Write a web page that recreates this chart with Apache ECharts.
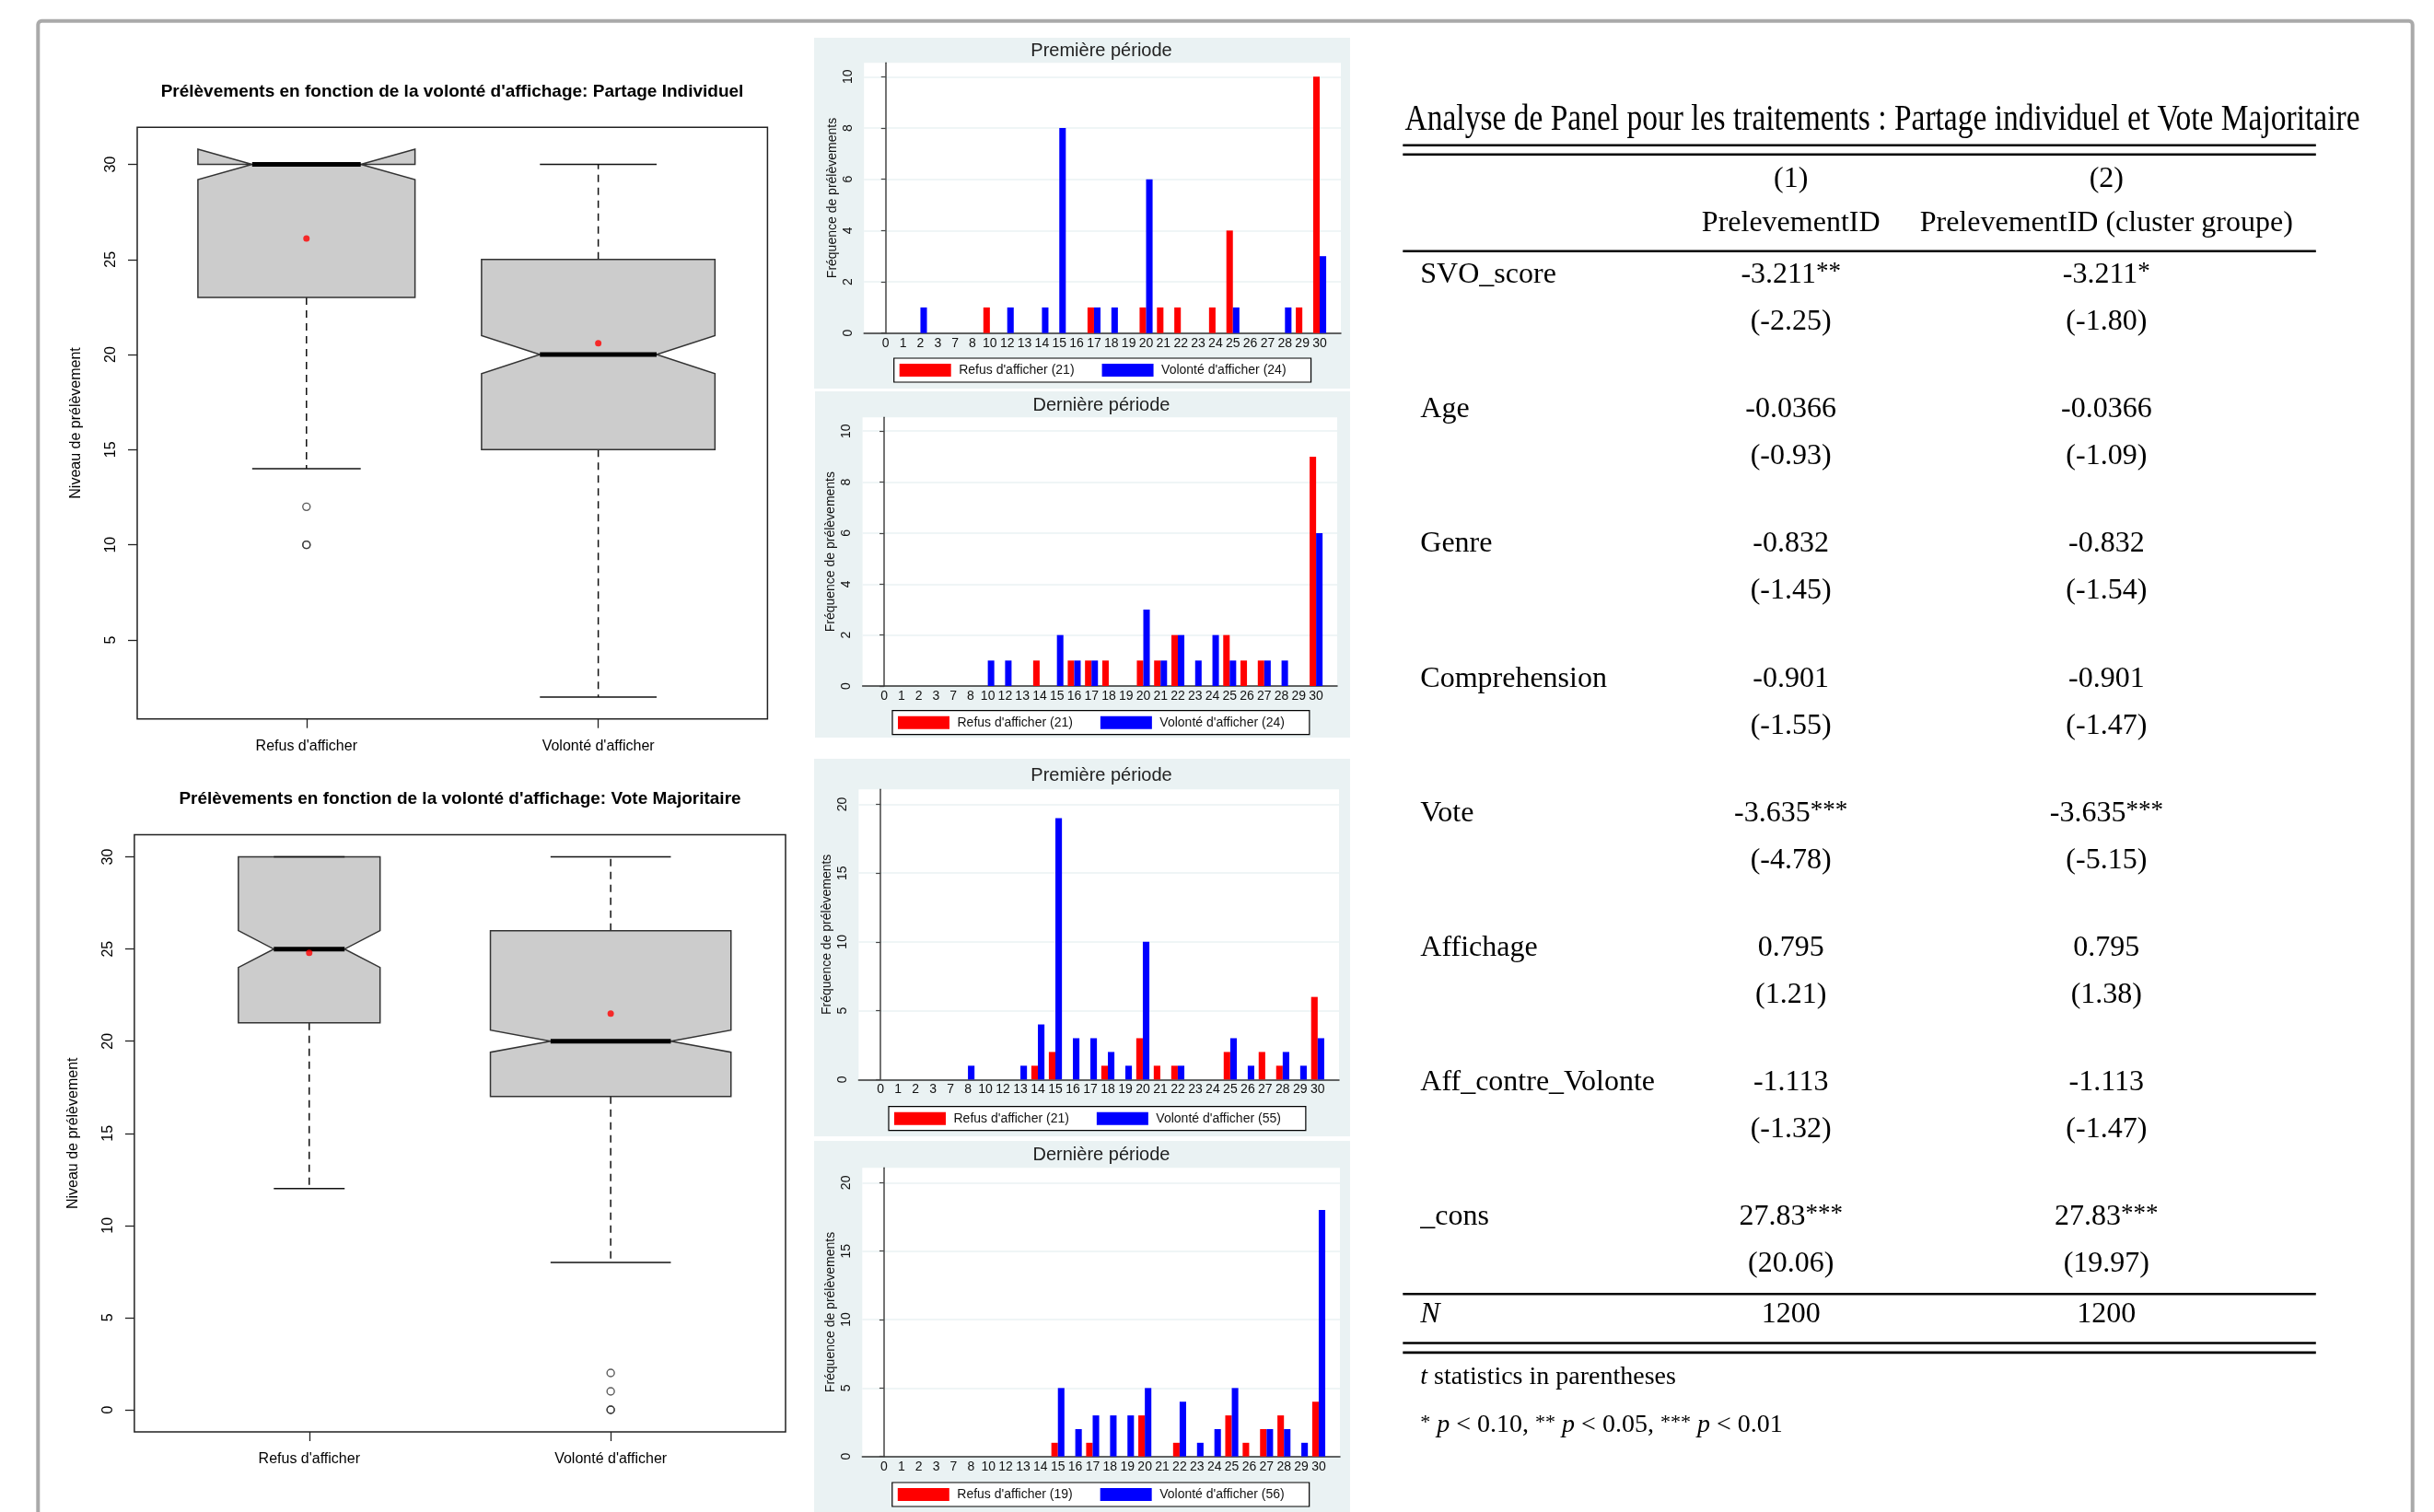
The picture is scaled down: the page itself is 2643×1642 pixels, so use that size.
<!DOCTYPE html>
<html>
<head>
<meta charset="utf-8">
<script src="https://cdn.jsdelivr.net/npm/echarts@6/dist/echarts.min.js"></script>
<style>
html,body{margin:0;padding:0;background:#ffffff;}
#c{width:2643px;height:1642px;}
</style>
</head>
<body>
<div id="c"></div>
<script>
// ===================== DATA =====================
// Boxplots (R, notched): [lower whisker, Q1, notch low, median, notch high, Q3, upper whisker]
const boxCategories = ["Refus d'afficher", "Volonté d'afficher"];
const partageTitle = "Prélèvements en fonction de la volonté d'affichage: Partage Individuel";
const partageBox = [[14, 23, 29.2, 30, 30.8, 30, 30], [2, 15, 19, 20, 21, 25, 30]];
const partageMeans = [26.1, 20.6];
const partageOutliers = [[1, 12], [1, 10], [1, 10]];
const partageYTicks = [5, 10, 15, 20, 25, 30];

const voteTitle = "Prélèvements en fonction de la volonté d'affichage: Vote Majoritaire";
const voteBox = [[12, 21, 24, 25, 26, 30, 30], [8, 17, 19.4, 20, 20.6, 26, 30]];
const voteMeans = [24.8, 21.5];
const voteOutliers = [[2, 2], [2, 1], [2, 0], [2, 0]];
const voteYTicks = [0, 5, 10, 15, 20, 25, 30];
const boxYLabel = "Niveau de prélèvement";

// Histograms (Stata)
const histCategories = ["0","1","2","3","7","8","10","12","13","14","15","16","17","18","19","20","21","22","23","24","25","26","27","28","29","30"];
//                          0 1 2 3 7 8 10 12 13 14 15 16 17 18 19 20 21 22 23 24 25 26 27 28 29 30
const partageFirstRefus  = [0,0,0,0,0,0, 1, 0, 0, 0, 0, 0, 1, 0, 0, 1, 1, 1, 0, 1, 4, 0, 0, 0, 1,10];
const partageFirstVolont = [0,0,1,0,0,0, 0, 1, 0, 1, 8, 0, 1, 1, 0, 6, 0, 0, 0, 0, 1, 0, 0, 1, 0, 3];
const partageLastRefus   = [0,0,0,0,0,0, 0, 0, 0, 1, 0, 1, 1, 1, 0, 1, 1, 2, 0, 0, 2, 1, 1, 0, 0, 9];
const partageLastVolont  = [0,0,0,0,0,0, 1, 1, 0, 0, 2, 1, 1, 0, 0, 3, 1, 2, 1, 2, 1, 0, 1, 1, 0, 6];
const voteFirstRefus     = [0,0,0,0,0,0, 0, 0, 0, 1, 2, 0, 0, 1, 0, 3, 1, 1, 0, 0, 2, 0, 2, 1, 0, 6];
const voteFirstVolont    = [0,0,0,0,0,1, 0, 0, 1, 4,19, 3, 3, 2, 1,10, 0, 1, 0, 0, 3, 1, 0, 2, 1, 3];
const voteLastRefus      = [0,0,0,0,0,0, 0, 0, 0, 0, 1, 0, 1, 0, 0, 3, 0, 1, 0, 0, 3, 1, 2, 3, 0, 4];
const voteLastVolont     = [0,0,0,0,0,0, 0, 0, 0, 0, 5, 2, 3, 3, 3, 5, 0, 4, 1, 2, 5, 0, 2, 2, 1,18];
const partageFirstLegend = ["Refus d'afficher (21)", "Volonté d'afficher (24)"];
const partageLastLegend  = ["Refus d'afficher (21)", "Volonté d'afficher (24)"];
const voteFirstLegend    = ["Refus d'afficher (21)", "Volonté d'afficher (55)"];
const voteLastLegend     = ["Refus d'afficher (19)", "Volonté d'afficher (56)"];
const periodTitles = ["Première période", "Dernière période"];
const histYLabel = "Fréquence de prélèvements";
const partageHistYTicks = [0, 2, 4, 6, 8, 10];
const voteHistYTicks = [0, 5, 10, 15, 20];

// Regression table
const tableTitle = "Analyse de Panel pour les traitements : Partage individuel et Vote Majoritaire";
const modelNumbers = ["(1)", "(2)"];
const modelNames = ["PrelevementID", "PrelevementID (cluster groupe)"];
const rowLabels = ["SVO_score", "Age", "Genre", "Comprehension", "Vote", "Affichage", "Aff_contre_Volonte", "_cons"];
const coefModel1  = ["-3.211", "-0.0366", "-0.832", "-0.901", "-3.635", "0.795", "-1.113", "27.83"];
const starsModel1 = ["**", "", "", "", "***", "", "", "***"];
const tstatModel1 = ["-2.25", "-0.93", "-1.45", "-1.55", "-4.78", "1.21", "-1.32", "20.06"];
const coefModel2  = ["-3.211", "-0.0366", "-0.832", "-0.901", "-3.635", "0.795", "-1.113", "27.83"];
const starsModel2 = ["*", "", "", "", "***", "", "", "***"];
const tstatModel2 = ["-1.80", "-1.09", "-1.54", "-1.47", "-5.15", "1.38", "-1.47", "19.97"];
const nObs = ["1200", "1200"];
const noteStats = "statistics in parentheses";
const noteSignif = [["*", "0.10"], ["**", "0.05"], ["***", "0.01"]];

// ===================== LAYOUT / STYLE =====================
const SANS = 'Liberation Sans';
const SERIF = 'Liberation Serif';
const BOX_HALF = [[0.372, 0.40], [0.235, 0.399]]; // varwidth half widths (x units)

const BOXPLOTS = [
  {title: partageTitle, box: partageBox, means: partageMeans, out: partageOutliers, ticks: partageYTicks,
   grid: {left: 149, top: 138.2, width: 684.4, height: 642.5}, ymin: 0.85, ymax: 31.95, titleX: 491, titleY: 99.5},
  {title: voteTitle, box: voteBox, means: voteMeans, out: voteOutliers, ticks: voteYTicks,
   grid: {left: 145.9, top: 906.6, width: 707.1, height: 648.4}, ymin: -1.2, ymax: 31.2, titleX: 499.5, titleY: 867.8}
];

const HISTS = [
  {refus: partageFirstRefus, volont: partageFirstVolont, legend: partageFirstLegend, title: periodTitles[0], ticks: partageHistYTicks, step: 2, ymax: 10.54,
   grid: {left: 938.2, top: 68.3, width: 517.8, height: 293.4}, bg: [884, 41, 582, 381], titleY: 55, leg: [970.7, 389]},
  {refus: partageLastRefus, volont: partageLastVolont, legend: partageLastLegend, title: periodTitles[1], ticks: partageHistYTicks, step: 2, ymax: 10.54,
   grid: {left: 936.6, top: 453.3, width: 515.4, height: 291.7}, bg: [885, 425, 581, 376], titleY: 440, leg: [969, 771.7]},
  {refus: voteFirstRefus, volont: voteFirstVolont, legend: voteFirstLegend, title: periodTitles[0], ticks: voteHistYTicks, step: 5, ymax: 21.08,
   grid: {left: 932.4, top: 857.3, width: 521.6, height: 315}, bg: [884, 824, 582, 410], titleY: 842.7, leg: [965, 1201.7]},
  {refus: voteLastRefus, volont: voteLastVolont, legend: voteLastLegend, title: periodTitles[1], ticks: voteHistYTicks, step: 5, ymax: 21.08,
   grid: {left: 936.3, top: 1268.3, width: 518.7, height: 313.4}, bg: [884, 1239, 582, 410], titleY: 1254, leg: [968.8, 1610]}
];

const TB = {labelX: 1542.3, colX: [1944.7, 2287.3], ruleX1: 1523.3, ruleX2: 2514.8,
  titleX: 1525.5, titleY: 130.5, titleW: 1037, headY1: 195, headY2: 243,
  row0: 298.5, rowStep: 146.2, tOff: 51, nY: 1427.6, foot1Y: 1495.5, foot2Y: 1548,
  rules: [157.7, 167.7, 272.7, 1405.3, 1458.5, 1468.9], fs: 32, fsTitle: 39, fsFoot: 28};

// ===================== BUILD =====================
const grid = [], xAxis = [], yAxis = [], series = [], legend = [], graphic = [];

// Frame
graphic.push({type: 'rect', z: -20, shape: {x: 41.3, y: 22.7, width: 2578.4, height: 1700, r: 4},
  style: {fill: 'none', stroke: '#aaaaaa', lineWidth: 4}});

function boxRenderer(halfWidths) {
  return function (params, api) {
    const i = params.dataIndex;
    const x = api.value(0);
    const wLo = api.value(1), q1 = api.value(2), nLo = api.value(3), med = api.value(4),
          nHi = api.value(5), q3 = api.value(6), wHi = api.value(7);
    const w = halfWidths[i];
    const P = (dx, y) => api.coord([x + dx, y]);
    const poly = [P(-w, q1), P(-w, nLo), P(-w / 2, med), P(-w, nHi), P(-w, q3),
                  P(w, q3), P(w, nHi), P(w / 2, med), P(w, nLo), P(w, q1)];
    const children = [];
    const seg = (a, b, style) => ({type: 'line', shape: {x1: a[0], y1: a[1], x2: b[0], y2: b[1]}, style});
    const dashStyle = {stroke: '#111', lineWidth: 1.5, lineDash: [8, 6]};
    const solid = {stroke: '#111', lineWidth: 1.5};
    if (wLo < q1) children.push(seg(P(0, q1), P(0, wLo), dashStyle));
    if (wHi > q3) children.push(seg(P(0, q3), P(0, wHi), dashStyle));
    children.push({type: 'polygon', shape: {points: poly}, style: {fill: '#cccccc', stroke: '#333333', lineWidth: 1.5}});
    children.push(seg(P(-w / 2, wLo), P(w / 2, wLo), solid));
    children.push(seg(P(-w / 2, wHi), P(w / 2, wHi), solid));
    children.push(seg(P(-w / 2, med), P(w / 2, med), {stroke: '#000', lineWidth: 5}));
    return {type: 'group', children};
  };
}

BOXPLOTS.forEach((B, gi) => {
  grid.push(Object.assign({show: true, borderColor: '#222', borderWidth: 1.5, backgroundColor: 'rgba(0,0,0,0)'}, B.grid));
  xAxis.push({gridIndex: gi, type: 'value', min: 0.42, max: 2.58,
    axisLine: {show: false, onZero: false}, splitLine: {show: false},
    axisTick: {show: true, length: 10, customValues: boxCategories.map((c, i) => i + 1), lineStyle: {color: '#222', width: 1.3}},
    axisLabel: {customValues: boxCategories.map((c, i) => i + 1), formatter: v => boxCategories[Math.round(v) - 1],
      fontFamily: SANS, fontSize: 16, color: '#000', margin: 22}});
  yAxis.push({gridIndex: gi, type: 'value', min: B.ymin, max: B.ymax,
    axisLine: {show: false, onZero: false}, splitLine: {show: false},
    axisTick: {show: true, length: 10, customValues: B.ticks, lineStyle: {color: '#222', width: 1.3}},
    axisLabel: {customValues: B.ticks, rotate: 90, fontFamily: SANS, fontSize: 16, color: '#000', margin: 20},
    name: boxYLabel, nameLocation: 'middle', nameRotate: 90, nameGap: 58,
    nameTextStyle: {fontFamily: SANS, fontSize: 16, color: '#000'}});
  series.push({type: 'custom', xAxisIndex: gi, yAxisIndex: gi, renderItem: boxRenderer(BOX_HALF[gi]),
    encode: {x: 0, y: [1, 2, 3, 4, 5, 6, 7]},
    data: B.box.map((b, i) => [i + 1].concat(b)), z: 2});
  series.push({type: 'scatter', xAxisIndex: gi, yAxisIndex: gi, symbol: 'circle', symbolSize: 8,
    itemStyle: {color: 'rgba(0,0,0,0)', borderColor: '#333', borderWidth: 1.4},
    data: B.out, z: 3});
  series.push({type: 'scatter', xAxisIndex: gi, yAxisIndex: gi, symbol: 'circle', symbolSize: 7,
    itemStyle: {color: '#ff0000'}, data: B.means.map((m, i) => [i + 1, m]), z: 4});
  graphic.push({type: 'text', x: B.titleX, y: B.titleY,
    style: {text: B.title, fontFamily: SANS, fontSize: 19, fontWeight: 'bold', fill: '#000',
      align: 'center', verticalAlign: 'middle', textAlign: 'center', textVerticalAlign: 'middle'}});
});

HISTS.forEach((H, k) => {
  const gi = k + 2;
  graphic.push({type: 'rect', z: -10, shape: {x: H.bg[0], y: H.bg[1], width: H.bg[2], height: H.bg[3]},
    style: {fill: '#eaf2f3'}});
  graphic.push({type: 'text', x: 1196, y: H.titleY,
    style: {text: H.title, fontFamily: SANS, fontSize: 20, fill: '#222',
      align: 'center', verticalAlign: 'middle', textAlign: 'center', textVerticalAlign: 'middle'}});
  grid.push(Object.assign({show: true, backgroundColor: '#ffffff', borderWidth: 0}, H.grid));
  xAxis.push({gridIndex: gi, type: 'value', min: -1.25, max: 26.22,
    axisLine: {show: true, onZero: false, lineStyle: {color: '#333', width: 1.5}},
    axisTick: {show: false}, splitLine: {show: false},
    axisLabel: {customValues: histCategories.map((c, i) => i), formatter: v => histCategories[Math.round(v)],
      fontFamily: SANS, fontSize: 14, color: '#111', margin: 4}});
  yAxis.push({gridIndex: gi, type: 'value', min: 0, max: H.ymax, interval: H.step,
    axisLine: {show: true, lineStyle: {color: '#444', width: 1.5}},
    axisTick: {show: true, length: 5, customValues: H.ticks, lineStyle: {color: '#444', width: 1.2}},
    splitLine: {show: true, lineStyle: {color: '#eaf2f3', width: 1.5}},
    axisLabel: {customValues: H.ticks, rotate: 90, fontFamily: SANS, fontSize: 14, color: '#111', margin: 10},
    name: histYLabel, nameLocation: 'middle', nameRotate: 90, nameGap: 27,
    nameTextStyle: {fontFamily: SANS, fontSize: 14, color: '#111'}});
  series.push({type: 'bar', name: H.legend[0], xAxisIndex: gi, yAxisIndex: gi,
    barGap: '0%', barCategoryGap: '25%', itemStyle: {color: '#ff0000'},
    data: H.refus.map((v, i) => [i, v])});
  series.push({type: 'bar', name: H.legend[1], xAxisIndex: gi, yAxisIndex: gi,
    barGap: '0%', barCategoryGap: '25%', itemStyle: {color: '#0000ff'},
    data: H.volont.map((v, i) => [i, v])});
  legend.push({left: H.leg[0], top: H.leg[1], orient: 'horizontal', data: H.legend, icon: 'rect',
    itemWidth: 56, itemHeight: 14, itemGap: 30, padding: [6, 27, 6, 6],
    borderColor: '#000', borderWidth: 1.2, backgroundColor: '#ffffff', selectedMode: false,
    textStyle: {fontFamily: SANS, fontSize: 14, color: '#111', padding: [0, 0, 0, 3.5]}});
});

// ----- Table -----
function measure(text, font) {
  const ctx = document.createElement('canvas').getContext('2d');
  ctx.font = font;
  return ctx.measureText(text).width;
}
const titleScale = TB.titleW / measure(tableTitle, TB.fsTitle + 'px "' + SERIF + '"');
const richBase = {
  n: {fontFamily: SERIF, fontSize: TB.fs, fill: '#000'},
  s: {fontFamily: SERIF, fontSize: 27, fill: '#000', verticalAlign: 'top'},
  i: {fontFamily: SERIF, fontSize: TB.fs, fontStyle: 'italic', fill: '#000'},
  fn: {fontFamily: SERIF, fontSize: TB.fsFoot, fill: '#000'},
  fi: {fontFamily: SERIF, fontSize: TB.fsFoot, fontStyle: 'italic', fill: '#000'},
  fs: {fontFamily: SERIF, fontSize: 22, fill: '#000', verticalAlign: 'top'}
};
function tText(x, y, text, align) {
  return {type: 'text', x, y, style: {text, rich: richBase, fontFamily: SERIF, fontSize: TB.fs, fill: '#000',
    align: align, verticalAlign: 'middle', textAlign: align, textVerticalAlign: 'middle'}};
}
graphic.push({type: 'text', x: TB.titleX, y: TB.titleY, scaleX: titleScale,
  style: {text: tableTitle, fontFamily: SERIF, fontSize: TB.fsTitle, fill: '#000',
    align: 'left', verticalAlign: 'middle', textAlign: 'left', textVerticalAlign: 'middle'}});
TB.rules.forEach(y => graphic.push({type: 'line', shape: {x1: TB.ruleX1, y1: y, x2: TB.ruleX2, y2: y},
  style: {stroke: '#000', lineWidth: 2.6}}));
modelNumbers.forEach((t, c) => graphic.push(tText(TB.colX[c], TB.headY1, '{n|' + t + '}', 'center')));
modelNames.forEach((t, c) => graphic.push(tText(TB.colX[c], TB.headY2, '{n|' + t + '}', 'center')));
const coefs = [coefModel1, coefModel2], stars = [starsModel1, starsModel2], tstats = [tstatModel1, tstatModel2];
rowLabels.forEach((lab, r) => {
  const y = TB.row0 + r * TB.rowStep;
  graphic.push(tText(TB.labelX, y, '{n|' + lab + '}', 'left'));
  for (let c = 0; c < 2; c++) {
    const st = stars[c][r];
    graphic.push(tText(TB.colX[c], y, '{n|' + coefs[c][r] + '}' + (st ? '{s|' + st + '}' : ''), 'center'));
    graphic.push(tText(TB.colX[c], y + TB.tOff, '{n|(' + tstats[c][r] + ')}', 'center'));
  }
});
graphic.push(tText(TB.labelX, TB.nY, '{i|N}', 'left'));
nObs.forEach((n, c) => graphic.push(tText(TB.colX[c], TB.nY, '{n|' + n + '}', 'center')));
graphic.push(tText(TB.labelX, TB.foot1Y, '{fi|t}{fn| ' + noteStats + '}', 'left'));
graphic.push(tText(TB.labelX, TB.foot2Y,
  noteSignif.map(p => '{fs|' + p[0] + '}{fn| }{fi|p}{fn| < ' + p[1] + '}').join('{fn|, }'), 'left'));

const chart = echarts.init(document.getElementById('c'), null, {renderer: 'canvas'});
chart.setOption({
  animation: false,
  backgroundColor: '#ffffff',
  textStyle: {fontFamily: SANS},
  grid, xAxis, yAxis, series, legend, graphic
});
</script>
</body>
</html>
